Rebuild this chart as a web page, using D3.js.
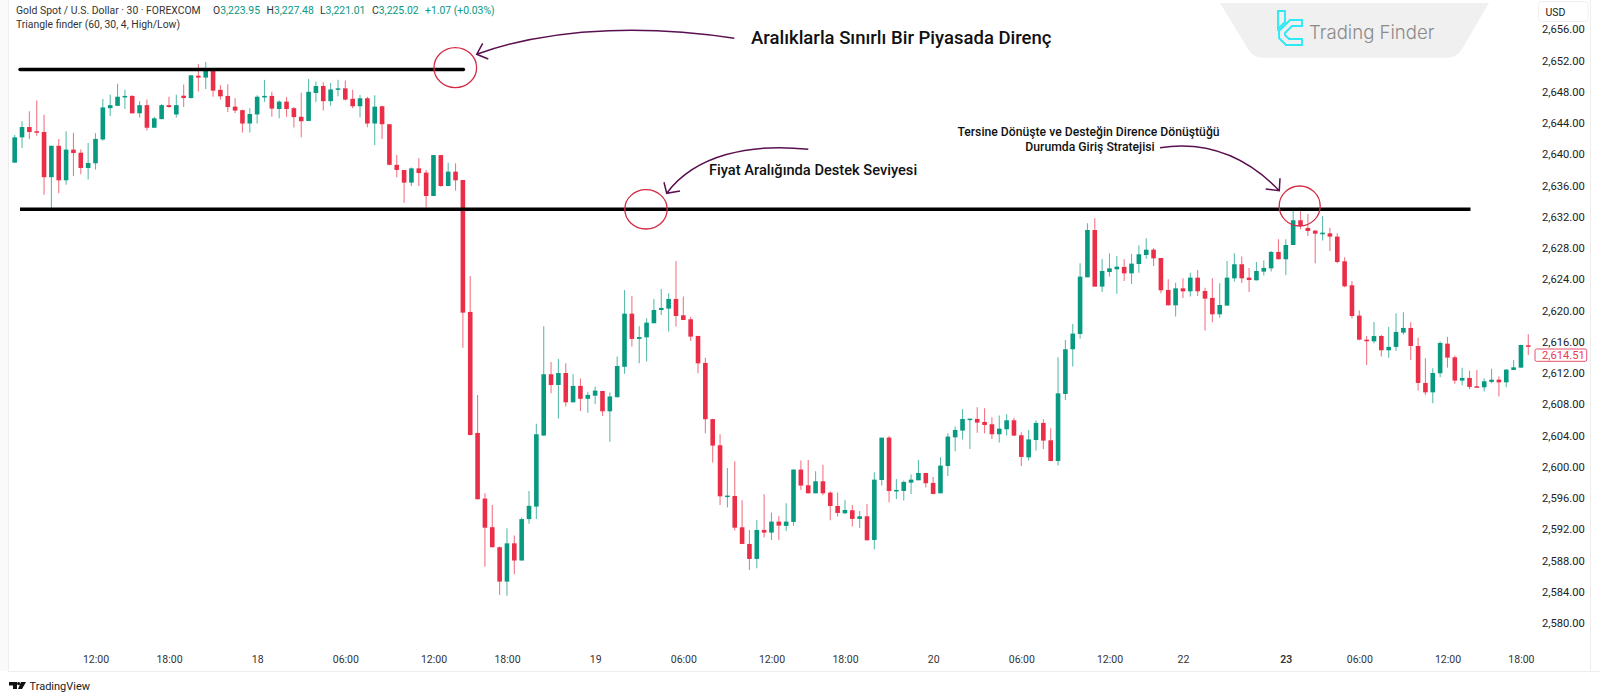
<!DOCTYPE html>
<html><head><meta charset="utf-8">
<script src="https://cdn.jsdelivr.net/npm/d3@7/dist/d3.min.js"></script>
<style>html,body{margin:0;padding:0;background:#fff}svg{display:block}</style>
</head><body><svg id="c" width="1600" height="700"></svg>
<script>
const opens=[2638.93,2642.17,2643.49,2642.95,2642.85,2637.07,2641.09,2636.67,2640.6,2640.2,2638.25,2638.85,2641.9,2645.9,2646.2,2647.37,2647.47,2645.25,2646.29,2643.4,2644.5,2646.29,2645.1,2647.5,2647.2,2650.06,2649.82,2650.9,2648.25,2647.47,2646.1,2645.65,2643.94,2645.1,2647.32,2647.47,2645.8,2646.74,2645.9,2644.8,2644.27,2647.85,2648.74,2646.8,2648.3,2648.44,2647.1,2646.15,2647.17,2643.94,2646.15,2643.85,2638.65,
2637.99,2636.37,2638.2,2637.65,2634.66,2639.9,2635.94,2637.78,2636.71,2619.82,2604.33,2595.93,2592.26,2589.7,2585.3,2590.2,2588.0,2593.3,2594.9,2604.0,2611.84,2610.47,2612.0,2608.25,2610.35,2608.7,2609.1,2609.7,2607.1,2608.9,2612.8,2619.6,2616.36,2616.57,2618.37,2620.07,2620.24,2621.48,2619.39,2618.88,
2616.75,2613.29,2606.1,2602.75,2596.18,2596.26,2592.25,2590.12,2588.2,2591.91,2591.57,2592.98,2592.43,2592.94,2599.64,2597.63,2596.6,2598.14,2596.69,2594.98,2594.05,2594.43,2593.32,2593.66,2590.63,2598.31,2603.73,2596.9,2596.9,2597.97,2598.27,2599.21,2597.93,2596.6,2600.1,2603.77,2604.63,2606.08,2606.12,2605.74,2605.44,2604.16,2604.8,2605.95,2604.03,2601.21,2603.43,2605.61,2603.39,2600.74,
2609.32,2615.04,2617.0,2624.25,2630.31,2623.06,2624.93,2625.28,2625.58,2624.76,2625.96,2627.11,2627.79,2626.73,2622.63,2620.67,2622.84,2622.46,2624.21,2622.5,2621.61,2619.52,2620.63,2624.12,2625.92,2624.21,2623.87,2624.98,2625.4,2627.5,2626.56,2628.39,2631.55,2630.57,2630.23,2629.76,2629.88,2629.46,2626.3,2623.23,2619.35,2616.27,2616.06,2616.74,2614.91,2615.34,2617.17,2617.77,2615.46,2610.73,2609.53,2611.97,2615.76,2614.01,2611.03,2611.37,2610.3,2610.17,2610.86,2611.15,2610.81,2612.39,2612.69,2615.55];
const highs=[2642.46,2644.23,2645.5,2646.88,2645.06,2641.09,2641.97,2642.95,2642.76,2640.6,2641.43,2642.71,2647.07,2647.61,2649.03,2648.25,2647.55,2646.8,2647.0,2644.82,2646.44,2647.37,2647.61,2648.94,2650.11,2651.55,2651.8,2650.9,2648.85,2648.95,2647.17,2645.7,2645.9,2647.55,2649.53,2648.0,2646.92,2647.32,2646.05,2647.87,2649.63,2649.33,2649.23,2649.13,2649.53,2649.43,2648.25,2647.6,2647.37,2647.55,2646.2,2643.85,2639.92,
2637.99,2638.3,2639.48,2638.0,2639.9,2639.9,2638.93,2638.84,2636.71,2624.42,2609.19,2596.6,2595.1,2589.8,2592.13,2591.2,2593.5,2596.9,2605.5,2618.0,2613.4,2613.8,2613.25,2611.84,2611.3,2609.6,2610.26,2609.7,2609.5,2614.1,2622.63,2621.85,2618.0,2619.0,2621.48,2622.76,2622.2,2626.34,2621.78,2619.2,
2616.75,2613.97,2606.16,2604.16,2599.85,2600.7,2595.71,2591.9,2593.19,2596.48,2594.13,2593.7,2595.33,2599.68,2600.79,2600.87,2599.42,2600.27,2596.86,2596.69,2595.75,2595.11,2594.34,2595.24,2599.29,2603.73,2603.94,2598.44,2598.23,2599.0,2600.87,2599.21,2598.7,2601.21,2604.28,2605.14,2607.4,2606.16,2607.61,2607.48,2606.33,2606.55,2606.72,2606.29,2604.41,2604.71,2605.91,2606.08,2604.92,2614.01,
2616.23,2618.28,2626.04,2631.16,2631.8,2626.6,2627.32,2626.98,2626.56,2627.24,2628.35,2629.24,2627.96,2626.73,2624.0,2623.57,2624.12,2624.85,2625.19,2622.93,2624.12,2623.48,2626.34,2627.32,2626.9,2625.45,2626.21,2626.39,2627.62,2629.12,2629.12,2632.87,2633.2,2632.36,2630.3,2632.1,2630.61,2629.88,2626.81,2623.78,2619.99,2616.74,2618.54,2616.87,2617.9,2619.65,2619.77,2618.49,2616.53,2613.89,2612.6,2616.02,2616.62,2614.23,2612.69,2612.3,2612.39,2611.33,2612.56,2611.54,2612.52,2613.67,2615.63,2616.96];
const lows=[2638.93,2640.79,2641.97,2642.36,2634.81,2633.14,2635.01,2636.09,2637.21,2637.46,2636.77,2638.05,2641.78,2644.91,2646.2,2645.8,2645.2,2644.7,2643.05,2643.4,2644.5,2645.95,2644.7,2646.05,2647.15,2648.05,2648.35,2647.37,2647.0,2645.4,2645.3,2642.8,2642.8,2643.94,2646.7,2644.8,2644.6,2644.8,2643.44,2642.17,2644.27,2646.7,2645.6,2646.2,2647.42,2646.9,2645.9,2644.7,2643.45,2641.18,2641.97,2638.6,2637.05,
2633.81,2635.94,2635.94,2633.2,2634.66,2635.86,2635.94,2635.35,2615.25,2603.99,2595.84,2587.2,2589.7,2583.6,2583.5,2586.24,2588.0,2592.7,2593.3,2603.95,2609.4,2606.17,2607.7,2608.25,2607.15,2606.93,2608.05,2606.5,2603.2,2608.9,2611.9,2615.38,2613.25,2613.46,2618.37,2619.43,2617.3,2617.94,2618.79,2616.1,
2611.96,2604.28,2600.53,2595.11,2594.77,2591.83,2590.12,2586.79,2587.0,2590.93,2590.63,2590.63,2591.78,2592.43,2597.03,2596.6,2596.6,2596.39,2593.15,2593.62,2593.92,2592.34,2592.17,2590.55,2589.44,2597.59,2595.45,2595.88,2595.67,2596.52,2598.27,2597.33,2596.48,2596.6,2598.82,2601.98,2603.5,2602.28,2604.37,2604.28,2603.56,2603.09,2603.99,2603.94,2600.1,2600.79,2602.07,2602.28,2600.7,2600.15,
2608.55,2612.82,2616.4,2624.25,2623.06,2622.38,2624.34,2622.16,2623.78,2623.4,2624.85,2626.64,2625.7,2622.2,2620.63,2619.22,2621.61,2621.78,2621.86,2617.43,2618.49,2619.09,2620.63,2623.7,2623.53,2622.38,2623.83,2624.47,2624.98,2626.56,2624.55,2628.39,2630.4,2629.54,2626.05,2628.95,2627.62,2626.04,2622.97,2619.0,2616.19,2613.03,2615.8,2614.1,2613.97,2614.82,2616.91,2613.67,2609.75,2609.19,2608.13,2611.45,2612.69,2610.64,2610.43,2609.92,2610.17,2609.62,2610.69,2608.98,2610.17,2612.39,2612.69,2614.31];
const closes=[2642.17,2643.49,2642.85,2642.76,2637.07,2641.09,2636.67,2640.6,2640.16,2638.25,2638.89,2641.97,2646.0,2646.29,2647.37,2647.47,2645.25,2646.29,2643.4,2644.6,2646.29,2646.05,2646.29,2647.2,2650.11,2649.82,2650.9,2648.15,2647.42,2646.05,2645.6,2643.94,2645.16,2647.37,2647.47,2645.85,2646.74,2645.8,2644.76,2644.23,2648.0,2648.74,2646.8,2648.3,2648.44,2647.0,2646.15,2647.17,2643.94,2646.1,2643.85,2638.65,2638.0,
2636.37,2638.2,2637.6,2634.66,2639.9,2635.94,2637.78,2636.67,2619.73,2604.07,2595.84,2592.2,2589.7,2585.3,2590.2,2588.0,2593.3,2595.0,2604.16,2611.84,2610.47,2612.0,2608.25,2610.35,2608.7,2609.2,2609.75,2607.1,2609.0,2612.9,2619.6,2616.36,2616.6,2618.45,2620.07,2620.33,2621.48,2619.3,2618.79,2616.66,
2613.24,2606.08,2602.71,2596.22,2596.31,2592.2,2590.12,2588.2,2591.91,2591.57,2592.98,2592.47,2592.98,2599.64,2597.59,2596.6,2598.14,2596.6,2594.98,2594.09,2594.47,2593.32,2593.66,2590.59,2598.35,2603.73,2596.9,2597.03,2598.06,2598.35,2599.21,2597.89,2596.52,2600.15,2603.86,2604.71,2606.12,2606.16,2605.65,2605.35,2604.16,2604.88,2605.95,2603.99,2601.26,2603.5,2605.61,2603.35,2600.74,2609.4,
2615.04,2617.04,2624.34,2630.31,2623.06,2625.06,2625.4,2625.62,2624.76,2626.0,2627.2,2627.79,2626.68,2622.59,2620.67,2622.84,2622.46,2624.21,2622.46,2621.52,2619.52,2620.71,2624.21,2625.92,2624.12,2623.91,2625.06,2625.45,2627.5,2626.56,2628.39,2631.55,2630.87,2630.18,2629.84,2629.97,2629.46,2626.21,2623.1,2619.3,2616.27,2616.06,2616.74,2614.91,2615.34,2617.26,2617.77,2615.46,2610.73,2609.53,2612.0,2615.85,2613.97,2611.03,2611.37,2610.22,2610.17,2610.94,2611.15,2610.81,2612.43,2612.73,2615.59,2615.46];
const yTickValues=[2656,2652,2648,2644,2640,2636,2632,2628,2624,2620,2616,2612,2608,2604,2600,2596,2592,2588,2584,2580];
const xTickBars=[11,21,33,45,57,67,79,91,103,113,125,137,149,159,173,183,195,205];
const xTickLabels=["12:00","18:00","18","06:00","12:00","18:00","19","06:00","12:00","18:00","20","06:00","12:00","22","23","06:00","12:00","18:00"];
const levelPrices=[2650.85,2632.97];
const lastPrice=2614.51;

const UP="#089981",DOWN="#ea2e47",F="Roboto, 'Open Sans', sans-serif";
const svg=d3.select("#c");
const x=d3.scaleLinear().domain([0,206]).range([14.67,1528.3]);
const y=d3.scaleLinear().domain([2656,2580]).range([29.3,623]);
const bars=opens.map((o,i)=>({i,o,h:highs[i],l:lows[i],c:closes[i]}));

// frame
svg.append("rect").attr("width",8).attr("height",671).attr("fill","#fafafa");
svg.append("line").attr("x1",8.5).attr("x2",8.5).attr("y1",0).attr("y2",671).attr("stroke","#eeeeee");
svg.append("line").attr("x1",8).attr("x2",1600).attr("y1",671.5).attr("y2",671.5).attr("stroke","#eeeeee");
svg.append("line").attr("x1",1590.5).attr("x2",1590.5).attr("y1",0).attr("y2",671).attr("stroke","#eeeeee");

// watermark
svg.append("path").attr("d","M1220,3H1489L1462,49Q1457,57.7 1447,57.7H1263Q1253,57.7 1248,49Z").attr("fill","#f0f0f0");
svg.append("path").attr("d","M1278,11H1285V22L1278,29ZM1302,20H1290L1279,31V38L1286,45H1302V39H1289L1285,35V33L1292,26H1302Z")
  .attr("fill","none").attr("stroke","#2ee9f4").attr("stroke-width",1.9);
svg.append("text").attr("x",1309).attr("y",39).attr("font-family","Inter, "+F).attr("font-weight",300).attr("font-size",18.6).attr("fill","#8a8a8a").text("Trading Finder");

// candles
const g=svg.append("g");
g.selectAll("line.w").data(bars).join("line").attr("class","w")
  .attr("x1",d=>x(d.i)).attr("x2",d=>x(d.i)).attr("y1",d=>y(d.h)).attr("y2",d=>y(d.l))
  .attr("stroke",d=>d.c>=d.o?UP:DOWN).attr("stroke-opacity",.65).attr("stroke-width",1.1);
g.selectAll("rect.b").data(bars).join("rect").attr("class","b")
  .attr("x",d=>x(d.i)-2.3).attr("width",4.6)
  .attr("y",d=>y(Math.max(d.o,d.c))).attr("height",d=>Math.max(1.5,Math.abs(y(d.o)-y(d.c))))
  .attr("fill",d=>d.c>=d.o?UP:DOWN);

// levels
svg.append("line").attr("x1",20).attr("x2",463.5).attr("y1",y(levelPrices[0])).attr("y2",y(levelPrices[0])).attr("stroke","#000").attr("stroke-width",3.4).attr("stroke-linecap","round");
svg.append("line").attr("x1",20).attr("x2",1470.5).attr("y1",y(levelPrices[1])).attr("y2",y(levelPrices[1])).attr("stroke","#000").attr("stroke-width",3.4);

// circles
[[455.3,67.7,21.3,20],[646,209.3,21.2,19.7],[1299.7,206,20.5,20]].forEach(c=>
 svg.append("ellipse").attr("cx",c[0]).attr("cy",c[1]).attr("rx",c[2]).attr("ry",c[3]).attr("fill","none").attr("stroke","#d42b45").attr("stroke-width",1.3));

// arrows
["M734.3,38.3C660,27 560,24 476.7,54.3M482.7,43.3L476.7,54.3L488.3,59",
 "M808.3,149.3C750,143 695,155 666.7,193.3M664,182.3L666.7,193.3L680,191",
 "M1160,147.7C1205,141 1245,155 1279.3,190.7M1280,178.3L1279.3,190.7L1265.7,189"].forEach(d=>
 svg.append("path").attr("d",d).attr("fill","none").attr("stroke","#5a1050").attr("stroke-width",1.5));

// annotation text
const ann=[[751,44,"Aralıklarla Sınırlı Bir Piyasada Direnç",18.5],[709,175,"Fiyat Aralığında Destek Seviyesi",14.65]];
ann.forEach(a=>svg.append("text").attr("x",a[0]).attr("y",a[1]).attr("font-family",F).attr("font-weight",500).attr("font-size",a[3]).attr("fill","#111").text(a[2]));
[[1088.5,136,"Tersine Dönüşte ve Desteğin Dirence Dönüştüğü"],[1090,151,"Durumda Giriş Stratejisi"]].forEach(a=>
 svg.append("text").attr("x",a[0]).attr("y",a[1]).attr("text-anchor","middle").attr("font-family",F).attr("font-weight",500).attr("font-size",12.2).attr("fill","#111").text(a[2]));

// header
const h1=svg.append("text").attr("x",16).attr("y",14).attr("font-family",F).attr("font-size",10.4).attr("fill","#333");
h1.append("tspan").text("Gold Spot / U.S. Dollar · 30 · FOREXCOM");
[["O","3,223.95",213],["H","3,227.48",266.5],["L","3,221.01",320],["C","3,225.02",372]].forEach(a=>{
  h1.append("tspan").attr("x",a[2]).text(a[0]);
  h1.append("tspan").attr("fill",UP).text(a[1]);
});
h1.append("tspan").attr("x",425).attr("fill",UP).text("+1.07 (+0.03%)");
svg.append("text").attr("x",16).attr("y",28).attr("font-family",F).attr("font-size",10.4).attr("fill","#333").text("Triangle finder (60, 30, 4, High/Low)");

// axes
const ay=svg.append("g").attr("transform","translate(1542,0)")
  .call(d3.axisRight(y).tickValues(yTickValues).tickFormat(d3.format(",.2f")).tickSize(0).tickPadding(0));
ay.select(".domain").remove();
ay.selectAll("text").attr("font-family",F).attr("font-size",11.2).attr("fill","#222");
const ax=svg.append("g").attr("transform","translate(0,655.5)")
  .call(d3.axisBottom(x).tickValues(xTickBars).tickFormat((d,i)=>xTickLabels[i]).tickSize(0).tickPadding(0));
ax.select(".domain").remove();
ax.selectAll("text").attr("font-family",F).attr("font-size",10.5).attr("fill","#333")
  .attr("font-weight",(d,i)=>xTickLabels[i]==="23"?600:400);

// USD box
svg.append("rect").attr("x",1538.5).attr("y",1.5).attr("width",49.5).attr("height",20).attr("rx",3).attr("fill","#fff").attr("stroke","#f0f0f0");
svg.append("text").attr("x",1545.5).attr("y",16).attr("font-family",F).attr("font-size",10.5).attr("fill","#222").text("USD");

// last price
svg.append("rect").attr("x",1535).attr("y",349).attr("width",51.7).attr("height",12.3).attr("rx",1.5).attr("fill","#fff").attr("stroke","#e8506a");
svg.append("text").attr("x",1542).attr("y",359).attr("font-family",F).attr("font-size",11.2).attr("fill","#ea3a50").text(d3.format(",.2f")(lastPrice));

// TradingView mark
svg.append("path").attr("d","M9,682H17V689H13V685.5H9ZM21,682L26,682L22,689H18Z").attr("fill","#111");
svg.append("circle").attr("cx",18.6).attr("cy",683.6).attr("r",1.6).attr("fill","#111");
svg.append("text").attr("x",29.5).attr("y",690).attr("font-family",F).attr("font-size",11).attr("fill","#222").text("TradingView");
</script></body></html>
